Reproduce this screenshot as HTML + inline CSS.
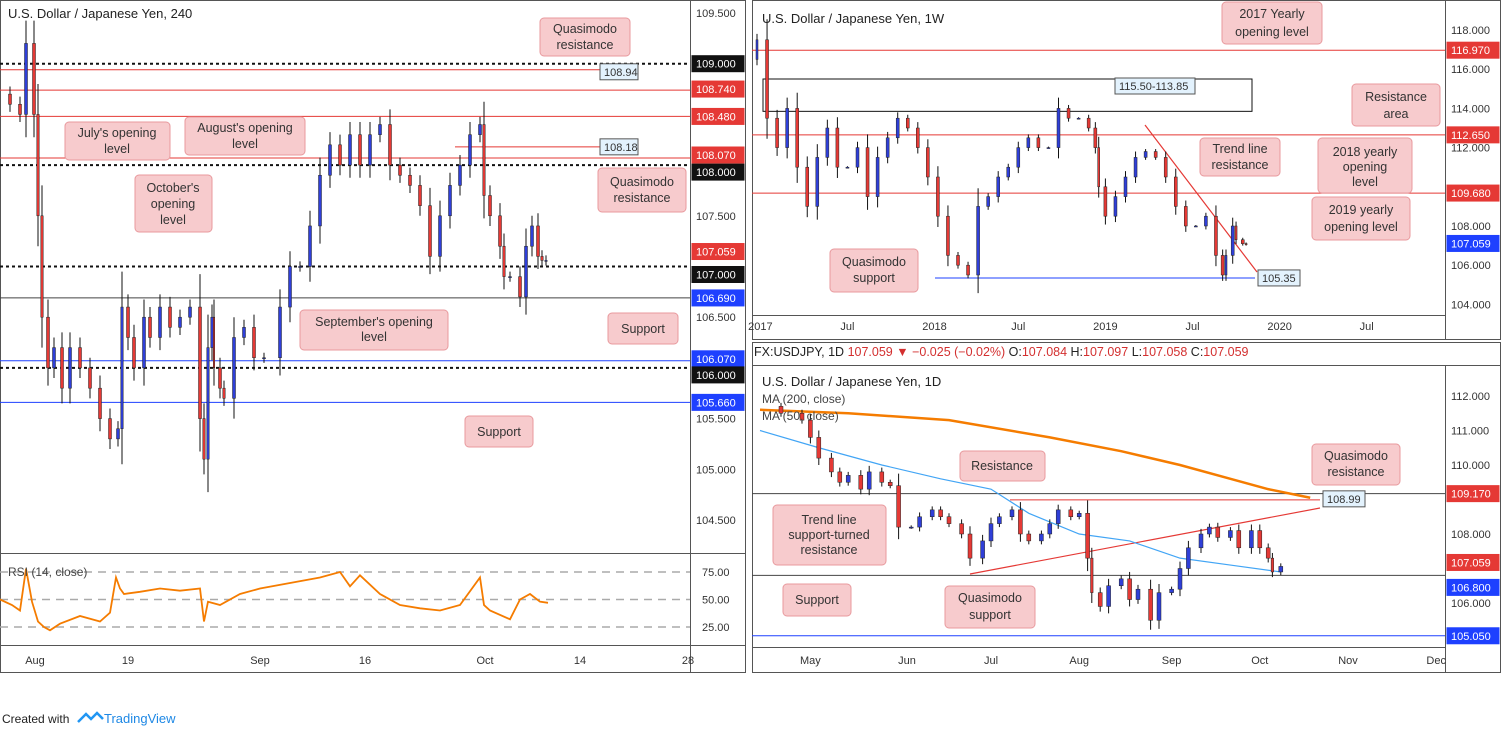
<!DOCTYPE html>
<html><head><meta charset="utf-8"><style>
body{margin:0;background:#fff;font-family:"Liberation Sans",sans-serif}
svg text{font-family:"Liberation Sans",sans-serif}
.ax{font-size:11px;fill:#333}
.co rect{fill:#f7cbcd;stroke:#e8999d}
.co text{font-size:12.5px;fill:#333;text-anchor:middle}
</style></head><body>
<svg id="s" width="1505" height="736" xmlns="http://www.w3.org/2000/svg">
<rect x="0" y="0" width="1505" height="736" fill="#fff"/>
<g id="frames" fill="none" stroke="#555" stroke-width="1">
<rect x="0.5" y="0.5" width="745" height="672"/>
<line x1="690.5" y1="0" x2="690.5" y2="672"/><line x1="0" y1="553.5" x2="745" y2="553.5"/><line x1="0" y1="645.5" x2="745" y2="645.5"/>
<rect x="752.5" y="0.5" width="748" height="339"/>
<line x1="1445.5" y1="0" x2="1445.5" y2="340"/><line x1="752" y1="315.5" x2="1445" y2="315.5"/>
<rect x="752.5" y="342.5" width="748" height="330"/>
<line x1="1445.5" y1="365" x2="1445.5" y2="672"/><line x1="752" y1="365.5" x2="1500" y2="365.5"/><line x1="752" y1="647.5" x2="1445" y2="647.5"/>
</g>
<g id="lines"></g><g id="series"></g>
<text x="8" y="18" font-size="13" fill="#222">U.S. Dollar / Japanese Yen, 240</text>
<text x="8" y="576" font-size="12" fill="#444">RSI (14, close)</text>
<text x="762" y="23" font-size="13" fill="#222">U.S. Dollar / Japanese Yen, 1W</text>
<text x="754" y="356" font-size="12.5" fill="#222">FX:USDJPY, 1D <tspan fill="#d32f2f">107.059 ▼ −0.025 (−0.02%)</tspan> O:<tspan fill="#d32f2f">107.084</tspan> H:<tspan fill="#d32f2f">107.097</tspan> L:<tspan fill="#d32f2f">107.058</tspan> C:<tspan fill="#d32f2f">107.059</tspan></text>
<text x="762" y="386" font-size="13" fill="#222">U.S. Dollar / Japanese Yen, 1D</text>
<text x="762" y="403" font-size="12" fill="#444">MA (200, close)</text>
<text x="762" y="420" font-size="12" fill="#444">MA (50, close)</text>
<g class="co">
<g><rect x="540" y="18" width="90" height="38" rx="4"/><text x="585" y="33">Quasimodo</text><text x="585" y="49">resistance</text></g>
<g><rect x="65" y="122" width="105" height="38" rx="4"/><text x="117" y="137">July's opening</text><text x="117" y="153">level</text></g>
<g><rect x="185" y="117" width="120" height="38" rx="4"/><text x="245" y="132">August's opening</text><text x="245" y="148">level</text></g>
<g><rect x="135" y="175" width="77" height="57" rx="4"/><text x="173" y="192">October's</text><text x="173" y="208">opening</text><text x="173" y="224">level</text></g>
<g><rect x="598" y="168" width="88" height="44" rx="4"/><text x="642" y="186">Quasimodo</text><text x="642" y="202">resistance</text></g>
<g><rect x="608" y="313" width="70" height="31" rx="4"/><text x="643" y="333">Support</text></g>
<g><rect x="300" y="310" width="148" height="40" rx="4"/><text x="374" y="326">September's opening</text><text x="374" y="341">level</text></g>
<g><rect x="465" y="416" width="68" height="31" rx="4"/><text x="499" y="436">Support</text></g>
<g><rect x="1222" y="2" width="100" height="42" rx="4"/><text x="1272" y="18">2017 Yearly</text><text x="1272" y="36">opening level</text></g>
<g><rect x="1352" y="84" width="88" height="42" rx="4"/><text x="1396" y="101">Resistance</text><text x="1396" y="118">area</text></g>
<g><rect x="1200" y="138" width="80" height="38" rx="4"/><text x="1240" y="153">Trend line</text><text x="1240" y="169">resistance</text></g>
<g><rect x="1318" y="138" width="94" height="55" rx="4"/><text x="1365" y="156">2018 yearly</text><text x="1365" y="171">opening</text><text x="1365" y="186">level</text></g>
<g><rect x="1312" y="197" width="98" height="43" rx="4"/><text x="1361" y="214">2019 yearly</text><text x="1361" y="231">opening level</text></g>
<g><rect x="830" y="249" width="88" height="43" rx="4"/><text x="874" y="266">Quasimodo</text><text x="874" y="282">support</text></g>
<g><rect x="960" y="451" width="85" height="30" rx="4"/><text x="1002" y="470">Resistance</text></g>
<g><rect x="1312" y="444" width="88" height="41" rx="4"/><text x="1356" y="460">Quasimodo</text><text x="1356" y="476">resistance</text></g>
<g><rect x="773" y="505" width="113" height="60" rx="4"/><text x="829" y="524">Trend line</text><text x="829" y="539">support-turned</text><text x="829" y="554">resistance</text></g>
<g><rect x="783" y="584" width="68" height="32" rx="4"/><text x="817" y="604">Support</text></g>
<g><rect x="945" y="586" width="90" height="42" rx="4"/><text x="990" y="602">Quasimodo</text><text x="990" y="619">support</text></g>
</g>
<g id="axes"></g>
<text x="2" y="723" font-size="12" fill="#222">Created with</text>
<path d="M78 722 l8 -8 l5 5 l6 -6 l6 6" stroke="#2196f3" stroke-width="2.5" fill="none"/>
<text x="104" y="723" font-size="13" fill="#1e88e5">TradingView</text>
</svg>
<script>
// ---- left 4H chart data ----
const h4Bars=[0,5,10,13,17,19,21,24,27,31,35,40,45,50,55,59,61,64,67,72,75,80,85,90,95,100,102,104,106,107,110,112,117,122,127,132,140,145,150,155,160,165,170,175,180,185,190,195,200,205,210,215,220,225,230,235,240,242,245,250,252,255,260,263,266,269,271,273];
const h4Close=[108.7,108.6,108.5,109.2,108.5,107.5,106.5,106.0,106.2,105.8,106.2,106.0,105.8,105.5,105.3,105.4,106.6,106.3,106.0,106.5,106.3,106.6,106.4,106.5,106.6,105.5,105.1,106.2,106.5,106.0,105.8,105.7,106.3,106.4,106.1,106.1,106.6,107.0,107.0,107.4,107.9,108.2,108.0,108.3,108.0,108.3,108.4,108.0,107.9,107.8,107.6,107.1,107.5,107.8,108.0,108.3,108.4,107.7,107.5,107.2,106.9,106.9,106.7,107.2,107.4,107.1,107.06,107.06];
const rsiBars=[0,6,10,13,16,19,22,25,30,40,50,55,58,60,62,70,80,90,100,102,104,110,120,130,145,160,170,175,180,190,200,210,220,230,240,242,245,255,260,265,270,274];
const rsiVals=[50,45,40,78,48,30,25,22,28,35,30,38,70,60,55,57,60,58,60,30,48,45,55,60,65,70,75,62,72,55,45,42,40,45,70,45,40,32,50,55,48,47];
const h4Levels=[109.0,108.0,107.0,106.0];
const h4Red=[108.94,108.74,108.48,108.07];
const h4Blue=[106.07,105.66];
const h4Ticks=[109.5,107.5,106.5,105.5,105.0,104.5];
const h4TimeLabels=["Aug","19","Sep","16","Oct","14","28"];
const h4TimeBars=[17.5,64,130,182.5,242.5,290,344];
// ---- weekly ----
const wkWeeks=[-1,0,3,6,9,12,15,18,21,24,27,30,33,36,39,42,45,48,51,54,57,60,63,66,69,72,75,78,81,84,87,90,93,96,99,101,102,104,107,110,113,116,119,122,125,128,131,134,137,139,140,142,143,145,146];
const wkClose=[116.5,117.5,113.5,112,114,111,109,111.5,113,111,111,112,109.5,111.5,112.5,113.5,113,112,110.5,108.5,106.5,106,105.5,109,109.5,110.5,111,112,112.5,112,112,114,113.5,113.5,113,112,110,108.5,109.5,110.5,111.5,111.8,111.5,110.5,109,108,108,108.5,106.5,105.5,106.5,108,107.3,107.1,107.06];
const wkLevels=[116.97,112.65,109.68];
const wkTicks=[118,116,114,112,108,106,104];
const wkTimeLabels=["2017","Jul","2018","Jul","2019","Jul","2020","Jul"];
const wkTimeWeeks=[1,27,53,78,104,130,156,182];
// ---- daily ----
const dDays=[0,5,10,12,14,17,19,21,24,26,29,31,33,36,38,41,43,45,48,50,53,55,57,60,62,64,67,69,71,74,76,78,79,81,83,86,88,90,93,95,98,100,102,105,107,109,112,114,117,119,121,122,124];
const dClose=[111.7,111.5,111.3,110.8,110.2,109.8,109.5,109.7,109.3,109.8,109.5,109.4,108.2,108.2,108.5,108.7,108.5,108.3,108.0,107.3,107.8,108.3,108.5,108.7,108.0,107.8,108.0,108.3,108.7,108.5,108.6,107.3,106.3,105.9,106.5,106.7,106.1,106.4,105.5,106.3,106.4,107.0,107.6,108.0,108.2,107.9,108.1,107.6,108.1,107.6,107.3,106.9,107.06];
const ma200Days=[0,21,45,69,86,100,112,121,131];
const ma200Vals=[111.6,111.5,111.3,110.8,110.4,110.0,109.6,109.3,109.05];
const ma50Days=[0,14,29,43,55,64,76,88,100,112,124];
const ma50Vals=[111.0,110.5,110.0,109.6,109.3,108.6,108.0,107.8,107.3,107.1,106.9];
const dTicks=[112,111,110,108,106];
const dTimeLabels=["May","Jun","Jul","Aug","Sep","Oct","Nov","Dec"];
const dTimeDays=[12,35,55,76,98,119,140,161];

const NS="http://www.w3.org/2000/svg";
function mk(tag,a,p){const e=document.createElementNS(NS,tag);for(const k in a)e.setAttribute(k,a[k]);p.appendChild(e);return e;}
const L=document.getElementById('lines'),S=document.getElementById('series'),A=document.getElementById('axes');
const yL=p=>13+(109.5-p)*101.4, xL=b=>b*2;
const yR=v=>572+(75-v)*1.1;
const yW=p=>30+(118-p)*19.6, xW=w=>757+w*3.35;
const yD=p=>396+(112-p)*34.5, xD=d=>760+d*4.2;

function candles(xs,cs,xf,yf,maxW,name){
 for(let i=1;i<xs.length;i++){
  const o=cs[i-1],c=cs[i],x=xf(xs[i]),gap=x-xf(xs[i-1]);
  const w=Math.max(1.5,Math.min(maxW,gap*0.6));
  const up=c>=o,col=up?'#2f3fd8':'#e53935';
  const hi=Math.max(o,c),lo=Math.min(o,c),wk=Math.abs(c-o)*0.25+0.05;
  const ln=mk('line',{x1:x,x2:x,y1:yf(hi+wk),y2:yf(lo-wk),stroke:'#111','stroke-width':1},S);
  
  
  const r=mk('rect',{x:x-w/2,y:yf(hi),width:w,height:Math.max(1,yf(lo)-yf(hi)),fill:col,stroke:'#222','stroke-width':0.5},S);
  
  
 }
}
function poly(xs,vs,xf,yf,col,w,name,dash){
 const pts=xs.map((x,i)=>xf(x)+','+yf(vs[i])).join(' ');
 const p=mk('polyline',{points:pts,fill:'none',stroke:col,'stroke-width':w},S);
 if(dash)p.setAttribute('stroke-dasharray',dash);
 
 
}
function hline(x1,x2,y,col,w,name,dash){
 const l=mk('line',{x1:x1,x2:x2,y1:y,y2:y,stroke:col,'stroke-width':w},L);
 if(dash)l.setAttribute('stroke-dasharray',dash);
 
 
}
function lab(x,y,txt,bg,fg,name,w){
 if(bg){const r=mk('rect',{x:x,y:y-8,width:w||52,height:16,fill:bg,stroke:bg=='#e3f2fd'?'#555':bg},A);
  
  }
 const t=mk('text',{x:x+4,y:y+4,'font-size':11,fill:fg||'#333'},A);
 t.textContent=txt;
 
 
}
function tlab(x,y,txt,name){
 const t=mk('text',{x:x,y:y,'font-size':11,fill:'#333','text-anchor':'middle'},A);
 t.textContent=txt;
 
 
}
// LEFT
h4Levels.forEach(p=>hline(0,690,yL(p),'#111',2,'round-number-level','3,3'));
h4Red.forEach((p,i)=>hline(0,i==0?600:690,yL(p),'#e53935',1,'red-level'));
hline(455,600,yL(108.18),'#e53935',1,'quasimodo-108-18');
hline(0,690,yL(106.69),'#444',1,'support-106-69');
h4Blue.forEach(p=>hline(0,690,yL(p),'#1e40ff',1,'blue-level'));
[25,50,75].forEach(v=>hline(0,690,yR(v),'#aaa',1.5,'rsi-band','8,6'));
candles(h4Bars,h4Close,xL,yL,3,'h4');
poly(rsiBars,rsiVals,xL,yR,'#f57c00',1.8,'rsi-line');
h4Ticks.forEach(p=>lab(692,yL(p),p.toFixed(3),null,'#333','left-price-tick'));
lab(692,yL(109),'109.000','#111','#fff','label-109-000');
lab(692,yL(108.74)-1,'108.740','#e53935','#fff','label-108-740');
lab(692,yL(108.48),'108.480','#e53935','#fff','label-108-480');
lab(692,yL(108.07)-3,'108.070','#e53935','#fff','label-108-070');
lab(692,yL(108)+7,'108.000','#111','#fff','label-108-000');
lab(692,yL(107.059)-9,'107.059','#e53935','#fff','label-107-059');
lab(692,yL(107)+8,'107.000','#111','#fff','label-107-000');
lab(692,yL(106.69),'106.690','#1e40ff','#fff','label-106-690');
lab(692,yL(106.07)-2,'106.070','#1e40ff','#fff','label-106-070');
lab(692,yL(106)+7,'106.000','#111','#fff','label-106-000');
lab(692,yL(105.66),'105.660','#1e40ff','#fff','label-105-660');
lab(600,yL(108.94)+2,'108.94','#e3f2fd','#333','label-108-94',38);
lab(600,yL(108.18),'108.18','#e3f2fd','#333','label-108-18',38);
[75,50,25].forEach(v=>lab(698,yR(v),v.toFixed(2),null,'#333','rsi-tick'));
h4TimeLabels.forEach((t,i)=>tlab(xL(h4TimeBars[i]),664,t,'left-time-tick'));
// WEEKLY
const rr=mk('rect',{x:763,y:yW(115.5),width:489,height:yW(113.85)-yW(115.5),fill:'none',stroke:'#111','stroke-width':1},L);


wkLevels.forEach(p=>hline(752,1445,yW(p),'#e53935',1,'weekly-red-level'));
hline(935,1255,yW(105.35),'#1e40ff',1,'weekly-quasimodo-support');
candles(wkWeeks,wkClose,xW,yW,3,'weekly');
const tl=mk('line',{x1:1145,y1:125,x2:1257,y2:272,stroke:'#e53935','stroke-width':1.2},L);


wkTicks.forEach(p=>lab(1447,yW(p),p.toFixed(3),null,'#333','weekly-price-tick'));
lab(1447,yW(116.97),'116.970','#e53935','#fff','label-116-970');
lab(1447,yW(112.65),'112.650','#e53935','#fff','label-112-650');
lab(1447,yW(109.68),'109.680','#e53935','#fff','label-109-680');
lab(1447,yW(107.059)-1,'107.059','#1e40ff','#fff','label-weekly-107-059');
lab(1115,yW(115.5)+7,'115.50-113.85','#e3f2fd','#333','label-resistance-area',80);
lab(1258,yW(105.35),'105.35','#e3f2fd','#333','label-105-35',42);
wkTimeLabels.forEach((t,i)=>tlab(xW(wkTimeWeeks[i]),330,t,'weekly-time-tick'));
// DAILY
hline(752,1445,yD(109.17),'#444',1,'daily-resistance-109-17');
hline(752,1445,yD(106.8),'#444',1,'daily-support-106-80');
hline(752,1445,yD(105.05),'#1e40ff',1,'daily-quasimodo-support');
hline(1010,1320,yD(108.99),'#e53935',1,'daily-quasimodo-resistance');
const dtl=mk('line',{x1:970,y1:574,x2:1320,y2:508,stroke:'#e53935','stroke-width':1.2},L);


poly(ma200Days,ma200Vals,xD,yD,'#f57c00',2.5,'ma200-line');
poly(ma50Days,ma50Vals,xD,yD,'#42a5f5',1.2,'ma50-line');
candles(dDays,dClose,xD,yD,4,'daily');
dTicks.forEach(p=>lab(1447,yD(p),p.toFixed(3),null,'#333','daily-price-tick'));
lab(1447,yD(109.17),'109.170','#e53935','#fff','label-109-170');
lab(1447,yD(107.059)-4,'107.059','#e53935','#fff','label-daily-107-059');
lab(1447,yD(106.8)+12,'106.800','#1e40ff','#fff','label-106-800');
lab(1447,yD(105.05),'105.050','#1e40ff','#fff','label-105-050');
lab(1323,yD(108.99)-1,'108.99','#e3f2fd','#333','label-108-99',42);
dTimeLabels.forEach((t,i)=>tlab(xD(dTimeDays[i]),664,t,'daily-time-tick'));
</script>
</body></html>
